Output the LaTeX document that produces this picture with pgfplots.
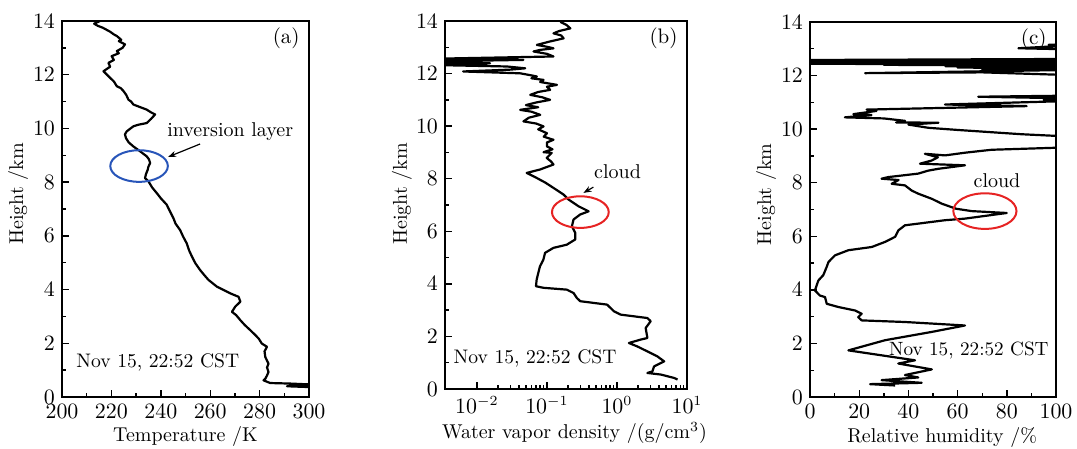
\documentclass[border=0pt]{standalone}
\usepackage{pgfplots}
\pgfplotsset{compat=1.18}
\usetikzlibrary{arrows.meta}
\definecolor{ellblue}{RGB}{40,85,185}
\definecolor{ellred}{RGB}{230,35,35}
\pgfplotsset{
  myaxis/.style={
    scale only axis, tick align=inside, xtick pos=left, ytick pos=left,
    major tick length=3.5pt, minor tick length=2pt,
    axis line style={line width=0.9pt},
    every tick/.style={black, line width=0.7pt},
    ymin=0, ymax=14, ytick={0,2,...,14}, minor y tick num=1,
    ylabel={Height /km},
    every axis y label/.style={at={(axis description cs:-0.178,0.54)}, rotate=90, anchor=center},
    tick label style={font=\fontsize{10.5}{12}\selectfont},
    label style={font=\fontsize{10}{12}\selectfont},
  },
  prof/.style={black, no markers, line width=1.1pt, line join=round},
}
\begin{document}
\begin{tikzpicture}
\path[use as bounding box] (0,0) rectangle (538.5pt,-224.5pt);
% (a)
\begin{axis}[myaxis, at={(31pt,-10.5pt)}, anchor=north west,
  width=123.5pt, height=188pt,
  xmin=200, xmax=300, xtick={200,220,...,300}, minor x tick num=1,
  xlabel={Temperature /K},
  every axis x label/.style={at={(axis description cs:0.5,-0.106)}, anchor=center}]
\addplot[prof] coordinates {
(215.4,14.0) (213.0,13.90) (214.5,13.82) (216.5,13.75) (219.5,13.6) (221.0,13.5)
(222.2,13.44) (224.0,13.30) (223.0,13.25) (225.5,13.13) (224.5,13.0) (222.2,12.88)
(223.0,12.80) (220.1,12.69) (221.0,12.55) (218.8,12.44) (219.5,12.30) (216.8,12.13)
(218.0,12.02) (219.5,11.88) (221.0,11.75) (222.2,11.57) (223.8,11.50) (224.9,11.39)
(226.0,11.25) (226.9,11.07) (228.0,11.00) (228.9,10.89) (232.0,10.78) (234.3,10.70)
(236.0,10.60) (237.7,10.52) (236.0,10.35) (234.3,10.20) (231.0,10.14) (228.9,10.08)
(226.2,9.89) (225.5,9.78) (225.9,9.64) (227.0,9.48) (228.9,9.33) (231.6,9.15)
(234.3,8.96) (235.2,8.85) (235.7,8.71) (235.0,8.58) (234.7,8.46) (234.0,8.30)
(233.6,8.15) (235.0,8.03) (236.5,7.80) (238.4,7.59) (240.0,7.40) (242.4,7.16)
(243.5,6.95) (245.1,6.66) (246.0,6.45) (247.8,6.22) (249.0,5.98) (250.5,5.72)
(251.5,5.45) (252.6,5.23) (254.0,4.98) (255.9,4.73) (257.5,4.55) (259.3,4.36)
(262.7,4.11) (265.5,3.98) (268.1,3.86) (271.5,3.73) (272.2,3.55) (270.1,3.36)
(268.8,3.17) (270.5,3.05) (272.2,2.86) (274.0,2.68) (276.2,2.49) (278.0,2.33)
(279.6,2.18) (280.9,1.99) (283.0,1.87) (282.0,1.70) (282.3,1.49) (283.6,1.24)
(283.0,1.10) (283.6,0.93) (283.0,0.80) (282.3,0.68) (281.6,0.62) (284.3,0.52)
(292.4,0.50) (299.9,0.47) (291.1,0.40) (300,0.37)
};
\node[anchor=north east, inner sep=0pt, font=\fontsize{10.5}{12}\selectfont] at (rel axis cs:1,1) [xshift=-4.5pt, yshift=-3pt] {(a)};
\node[anchor=west, inner sep=0pt, font=\fontsize{10}{12}\selectfont] at (axis cs:242.5,9.87) {inversion layer};
\draw[ellblue, line width=1pt] (axis cs:231.2,8.6) ellipse [x radius=14.4pt, y radius=7.9pt];
\draw[black, line width=0.6pt, -{Stealth[length=4pt,width=3pt]}] (axis cs:255.9,9.42) -- (axis cs:243,8.94);
\node[anchor=west, inner sep=0pt, font=\fontsize{9.8}{12}\selectfont] at (axis cs:205.7,1.30) {Nov 15, 22:52 CST};
\end{axis}
% (b)
\begin{axis}[myaxis, at={(222.5pt,-10.5pt)}, anchor=north west,
  width=121pt, height=184pt,
  xmode=log, xmin=0.0035, xmax=10, xtick={0.01,0.1,1,10},
  xlabel={Water vapor density /(g/cm$^3$)},
  every axis y label/.style={at={(axis description cs:-0.178,0.53)}, rotate=90, anchor=center},
  every axis x label/.style={at={(axis description cs:0.535,-0.12)}, anchor=center}]
\addplot[prof] coordinates {
(0.155,13.97) (0.190,13.85) (0.216,13.72) (0.150,13.62) (0.124,13.53) (0.160,13.45)
(0.173,13.34) (0.110,13.22) (0.0718,13.09) (0.100,13.02) (0.124,12.96) (0.080,12.90)
(0.0643,12.84) (0.100,12.75) (0.124,12.65) (0.002,12.56) (0.0462,12.52) (0.002,12.46)
(0.0154,12.39) (0.002,12.33) (0.0267,12.27) (0.0489,12.20) (0.030,12.15) (0.00635,12.08)
(0.0414,12.01) (0.055,11.95) (0.0718,11.89) (0.060,11.82) (0.0895,11.76) (0.080,11.68)
(0.139,11.57) (0.100,11.50) (0.111,11.38) (0.075,11.30) (0.0577,11.19) (0.085,11.10)
(0.111,11.0) (0.070,10.90) (0.050,10.80) (0.075,10.72) (0.0414,10.62) (0.060,10.55)
(0.0802,10.43) (0.055,10.32) (0.0462,10.18) (0.070,10.10) (0.0895,9.99) (0.075,9.88)
(0.1,9.73) (0.090,9.60) (0.124,9.48) (0.100,9.38) (0.1,9.23) (0.120,9.12) (0.0895,9.01)
(0.117,8.98) (0.0993,8.79) (0.115,8.65) (0.124,8.54) (0.0796,8.35) (0.0513,8.22)
(0.0571,8.16) (0.0713,8.03) (0.095,7.85) (0.124,7.65) (0.172,7.40) (0.203,7.21)
(0.283,6.95) (0.394,6.76) (0.299,6.64) (0.240,6.45) (0.227,6.19) (0.254,5.94)
(0.254,5.69) (0.192,5.49) (0.124,5.37) (0.094,5.18) (0.0889,4.92) (0.0796,4.67)
(0.0753,4.42) (0.0713,4.16) (0.0697,3.91) (0.0889,3.85) (0.192,3.78) (0.240,3.65)
(0.268,3.46) (0.299,3.34) (0.723,3.21) (0.902,2.96) (1.125,2.83) (2.72,2.70)
(3.03,2.58) (2.57,2.32) (2.72,1.94) (2.18,1.88) (1.48,1.75) (1.95,1.62) (2.72,1.43)
(3.78,1.24) (4.72,1.05) (3.39,0.86) (3.21,0.67) (2.72,0.61) (4.23,0.55) (6.56,0.42)
(7.33,0.36)
};
\node[anchor=north east, inner sep=0pt, font=\fontsize{10.5}{12}\selectfont] at (rel axis cs:1,1) [xshift=-4.5pt, yshift=-3pt] {(b)};
\node[anchor=center, inner sep=0pt, font=\fontsize{10}{12}\selectfont] at (axis cs:1.02,8.25) {cloud};
\draw[ellred, line width=1pt] (axis cs:0.30,6.73) ellipse [x radius=14.2pt, y radius=7.9pt];
\draw[black, line width=0.6pt, -{Stealth[length=4pt,width=3pt]}] (axis cs:0.461,7.68) -- (axis cs:0.332,7.46);
\node[anchor=west, inner sep=0pt, font=\fontsize{9.8}{12}\selectfont] at (axis cs:0.0046,1.18) {Nov 15, 22:52 CST};
\end{axis}
% (c)
\begin{axis}[myaxis, at={(405pt,-11pt)}, anchor=north west,
  width=123pt, height=187.5pt,
  xmin=0, xmax=100, xtick={0,20,...,100}, minor x tick num=1,
  xlabel={Relative humidity /\%},
  every axis x label/.style={at={(axis description cs:0.537,-0.107)}, anchor=center}]
\addplot[prof] coordinates {
(105,13.17) (97,13.15) (105,13.12) (84.7,13.02) (105,12.98)
(105,12.62) (-5,12.58) (105,12.57) (-5,12.55) (60,12.53) (-5,12.51) (105,12.50)
(-5,12.47) (90,12.46) (-5,12.44) (105,12.42) (30,12.40) (105,12.38) (55,12.35)
(105,12.33) (60,12.30) (105,12.27) (70,12.24) (105,12.21) (22.4,12.09) (70,12.12)
(105,12.02) (105,11.25) (68.4,11.21) (105,11.15) (95,11.10) (105,11.05)
(54.9,10.92) (88.1,10.86) (23.0,10.73) (27,10.68) (17.6,10.56) (25,10.53)
(14.2,10.44) (30,10.40) (38.6,10.31) (35,10.25) (52.2,10.24) (40,10.17) (48.1,10.05)
(60,9.97) (86.0,9.81) (99.6,9.75) (105,9.7) (105,9.32) (73.8,9.23) (63.0,9.12)
(54.9,9.02) (46.7,9.08) (52,8.95) (49.5,8.83) (44.7,8.71) (63.0,8.65) (52.2,8.52)
(48,8.45) (44.0,8.34) (31.8,8.21) (29.1,8.15) (36,8.10) (33.2,7.96) (38.6,7.90)
(41.3,7.71) (44.0,7.59) (49.5,7.40) (53.5,7.22) (59.3,7.03) (65.7,6.94) (80.0,6.87)
(63.0,6.66) (54.9,6.60) (38.6,6.41) (35.9,6.22) (34.6,5.98) (30.5,5.79) (25.1,5.60)
(15.6,5.48) (10.2,5.29) (7.5,5.04) (6.8,4.86) (5.4,4.55) (3.4,4.35) (2.0,3.98)
(4.0,3.79) (6.1,3.73) (6.8,3.48) (11.5,3.36) (18.3,3.23) (21.0,3.11) (19.6,2.98)
(21.0,2.86) (38.6,2.80) (63.0,2.67) (49.5,2.43) (30.5,2.12) (15.6,1.74) (33.2,1.50)
(42.7,1.37) (35.9,1.25) (49.5,1.03) (38.6,0.82) (44.0,0.73) (29.1,0.63) (45.4,0.53)
(24.4,0.48) (34.6,0.43)
};
\node[anchor=north east, inner sep=0pt, font=\fontsize{10.5}{12}\selectfont] at (rel axis cs:1,1) [xshift=-4.5pt, yshift=-3pt] {(c)};
\node[anchor=center, inner sep=0pt, font=\fontsize{10}{12}\selectfont] at (axis cs:76,8.08) {cloud};
\draw[ellred, line width=1pt] (axis cs:71.1,6.94) ellipse [x radius=15.8pt, y radius=8.9pt];
\node[anchor=west, inner sep=0pt, font=\fontsize{9.6}{12}\selectfont] at (axis cs:32,1.75) {Nov 15, 22:52 CST};
\end{axis}
\end{tikzpicture}
\end{document}
